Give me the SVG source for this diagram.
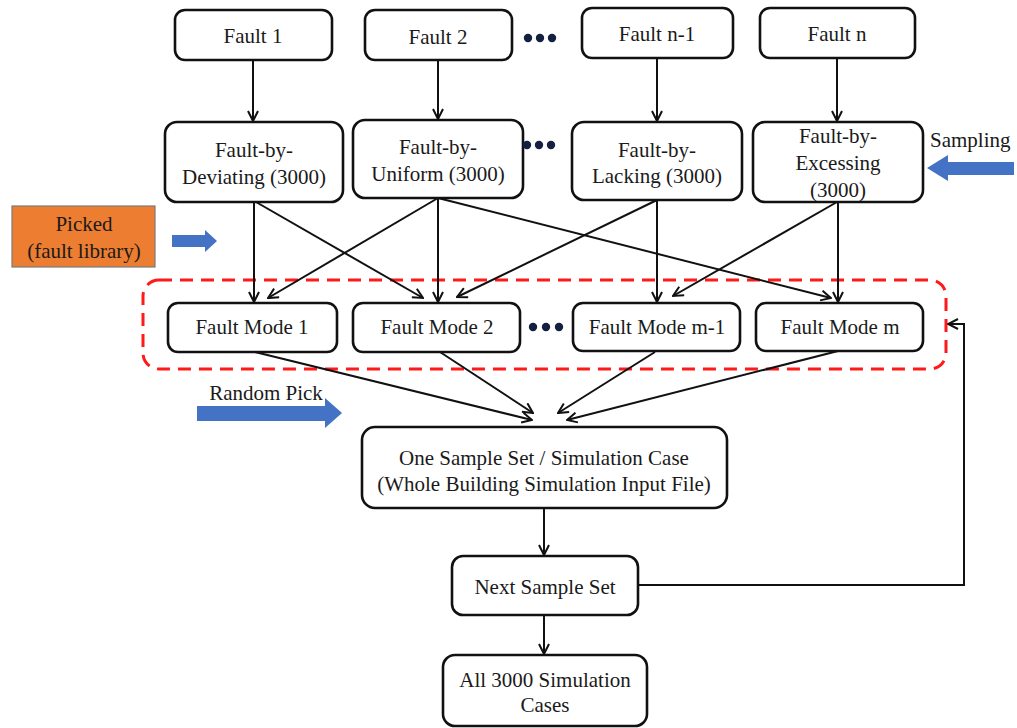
<svg xmlns="http://www.w3.org/2000/svg" width="1017" height="728" viewBox="0 0 1017 728">
  <style>
    .box { fill: #ffffff; stroke: #111111; stroke-width: 2.6; }
    .lbl { font-family: "Liberation Serif", "Times New Roman", serif; font-size: 21px; fill: #1a1a1a; text-anchor: middle; dominant-baseline: central; }
    .edge { fill: none; stroke: #111111; stroke-width: 2; marker-end: url(#arr); }
    .dot { fill: #14203f; }
    .blue { fill: #4472C4; }
  </style>
  <defs>
    <marker id="arr" viewBox="0 0 12 12" refX="11" refY="6" markerWidth="12" markerHeight="12" markerUnits="userSpaceOnUse" orient="auto">
      <path d="M1,1 L11,6 L1,11" fill="none" stroke="#111111" stroke-width="2"/>
    </marker>
  </defs>
  <rect width="1017" height="728" fill="#ffffff"/>

  <!-- fault library group -->
  <rect x="143" y="280" width="803" height="89" rx="16" fill="none" stroke="#ff1a1a" stroke-width="3" stroke-dasharray="13 8"/>

  <!-- connectors -->
  <g id="connectors">
    <line class="edge" x1="253" y1="60" x2="253" y2="121"/>
    <line class="edge" x1="438" y1="60" x2="438" y2="119"/>
    <line class="edge" x1="657" y1="58" x2="657" y2="121"/>
    <line class="edge" x1="837" y1="58" x2="837" y2="121"/>

    <line class="edge" x1="254" y1="202" x2="254" y2="302"/>
    <line class="edge" x1="256" y1="202" x2="423" y2="298"/>
    <line class="edge" x1="438" y1="198" x2="268" y2="298"/>
    <line class="edge" x1="438" y1="198" x2="438" y2="302"/>
    <line class="edge" x1="438" y1="198" x2="831" y2="298"/>
    <line class="edge" x1="657" y1="200" x2="457" y2="297"/>
    <line class="edge" x1="657" y1="200" x2="657" y2="302"/>
    <line class="edge" x1="837" y1="202" x2="673" y2="296"/>
    <line class="edge" x1="838" y1="202" x2="838" y2="302"/>

    <line class="edge" x1="255" y1="352" x2="532" y2="420"/>
    <line class="edge" x1="440" y1="352" x2="533" y2="413"/>
    <line class="edge" x1="655" y1="352" x2="558" y2="413"/>
    <line class="edge" x1="838" y1="351" x2="567" y2="420"/>

    <line class="edge" x1="544" y1="508" x2="544" y2="555"/>
    <line class="edge" x1="544" y1="615" x2="544" y2="654"/>
    <polyline class="edge" points="638,585 964,585 964,324 948,324"/>
  </g>

  <!-- top row -->
  <g id="fault1"><rect class="box" x="175" y="10" width="157" height="50" rx="10"/><text class="lbl" x="253" y="36">Fault 1</text></g>
  <g id="fault2"><rect class="box" x="365" y="10" width="147" height="50" rx="10"/><text class="lbl" x="438" y="37">Fault 2</text></g>
  <g id="dots-top"><circle class="dot" cx="528" cy="38" r="4.2"/><circle class="dot" cx="540" cy="38" r="4.2"/><circle class="dot" cx="552" cy="38" r="4.2"/></g>
  <g id="faultn1"><rect class="box" x="582" y="8" width="151" height="50" rx="10"/><text class="lbl" x="657" y="34">Fault n-1</text></g>
  <g id="faultn"><rect class="box" x="760" y="8" width="155" height="50" rx="10"/><text class="lbl" x="837" y="34">Fault n</text></g>

  <!-- fault-by row -->
  <g id="deviating"><rect class="box" x="165" y="122" width="178" height="80" rx="12"/><text class="lbl" x="254" y="150">Fault-by-</text><text class="lbl" x="254" y="177">Deviating (3000)</text></g>
  <g id="uniform"><rect class="box" x="353" y="120" width="170" height="78" rx="12"/><text class="lbl" x="438" y="147">Fault-by-</text><text class="lbl" x="438" y="174">Uniform (3000)</text></g>
  <g id="dots-mid"><circle class="dot" cx="527" cy="145" r="4.2"/><circle class="dot" cx="539" cy="145" r="4.2"/><circle class="dot" cx="551" cy="145" r="4.2"/></g>
  <g id="lacking"><rect class="box" x="572" y="122" width="170" height="78" rx="12"/><text class="lbl" x="657" y="150">Fault-by-</text><text class="lbl" x="657" y="176">Lacking (3000)</text></g>
  <g id="excessing"><rect class="box" x="753" y="122" width="170" height="80" rx="12"/><text class="lbl" x="838" y="136">Fault-by-</text><text class="lbl" x="838" y="163">Excessing</text><text class="lbl" x="838" y="190">(3000)</text></g>

  <!-- sampling input -->
  <g id="sampling"><text class="lbl" x="930" y="140" style="text-anchor:start">Sampling</text><polygon class="blue" points="927,168 948,155 948,162 1014,162 1014,175 948,175 948,181"/></g>

  <!-- picked -->
  <g id="picked"><rect x="12" y="206" width="143" height="61" fill="#ED7D31" stroke="#7a7a7a" stroke-width="1.2"/><text class="lbl" x="84" y="224">Picked</text><text class="lbl" x="84" y="251">(fault library)</text></g>
  <polygon class="blue" points="172,235 205,235 205,230 217,241 205,252 205,247 172,247"/>

  <!-- fault mode row -->
  <g id="mode1"><rect class="box" x="168" y="303" width="169" height="49" rx="10"/><text class="lbl" x="252" y="327">Fault Mode 1</text></g>
  <g id="mode2"><rect class="box" x="353" y="303" width="167" height="49" rx="10"/><text class="lbl" x="437" y="327">Fault Mode 2</text></g>
  <g id="dots-low"><circle class="dot" cx="533" cy="327" r="4.2"/><circle class="dot" cx="546" cy="327" r="4.2"/><circle class="dot" cx="559" cy="327" r="4.2"/></g>
  <g id="modem1"><rect class="box" x="573" y="303" width="167" height="48" rx="10"/><text class="lbl" x="657" y="327">Fault Mode m-1</text></g>
  <g id="modem"><rect class="box" x="756" y="303" width="167" height="48" rx="10"/><text class="lbl" x="840" y="327">Fault Mode m</text></g>

  <!-- random pick -->
  <g id="randompick"><text class="lbl" x="266" y="393">Random Pick</text><polygon class="blue" points="197,406 325,406 325,398 342,413 325,428 325,421 197,421"/></g>

  <!-- lower chain -->
  <g id="sampleset"><rect class="box" x="362" y="427" width="365" height="81" rx="13"/><text class="lbl" x="544" y="458">One Sample Set / Simulation Case</text><text class="lbl" x="544" y="484">(Whole Building Simulation Input File)</text></g>
  <g id="nextset"><rect class="box" x="452" y="556" width="186" height="59" rx="11"/><text class="lbl" x="545" y="587">Next Sample Set</text></g>
  <g id="allcases"><rect class="box" x="443" y="655" width="204" height="71" rx="12"/><text class="lbl" x="545" y="680">All 3000 Simulation</text><text class="lbl" x="545" y="705">Cases</text></g>
</svg>
